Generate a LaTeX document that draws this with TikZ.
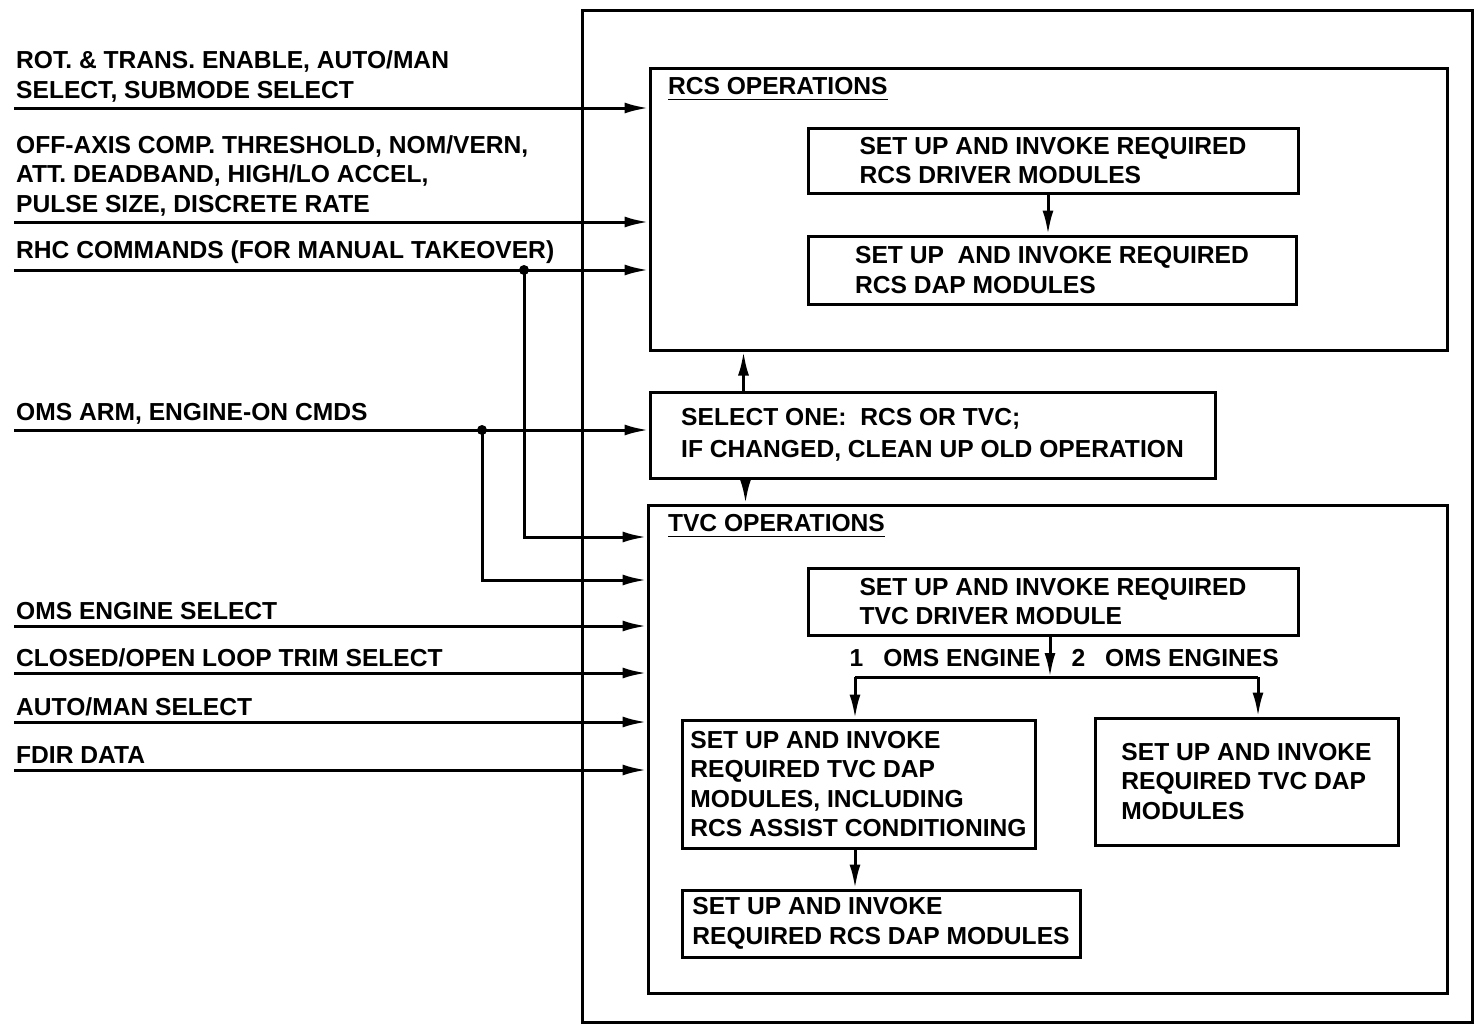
\documentclass[tikz,border=0pt]{standalone}
\usepackage{fontspec}
\setmainfont{Liberation Sans}
\usetikzlibrary{arrows.meta}

\begin{document}
\begin{tikzpicture}[line width=0.85pt, font=\bfseries\fontsize{7}{8.4}\selectfont]
\tikzset{module/.style = {draw, align=left, inner sep=0pt}}
\tikzset{heading/.style = {anchor=north west, inner sep=0pt}}
\tikzset{signal/.style = {anchor=south west, align=left, inner xsep=0.2pt, inner ysep=1.3pt}}
\tikzset{tap/.style = {circle, fill, inner sep=0pt, minimum size=0.1cm}}
\tikzset{edge/.style = {-{Latex[length=2.4mm,width=1.1mm]}}}
\useasboundingbox (0,0) rectangle (14.78,-10.30);
% outer frame
\draw (5.82,-0.10) rectangle (14.72,-10.22);
% operation boxes
\node[module, minimum width=7.97cm, minimum height=2.82cm] (rcs) at (10.485,-2.09) {};
\node[module, minimum width=5.65cm, minimum height=0.86cm, font=\bfseries\fontsize{7}{9}\selectfont] (sel) at (9.325,-4.35)
  {SELECT ONE:\ \ RCS OR TVC;\\IF CHANGED, CLEAN UP OLD OPERATION};
\node[module, minimum width=7.99cm, minimum height=4.88cm] (tvc) at (10.475,-7.49) {};
\node[heading] (rcstitle) at ([shift={(0.18,-0.09)}]rcs.north west) {\underline{RCS OPERATIONS}};
\node[heading] (tvctitle) at ([shift={(0.20,-0.09)}]tvc.north west) {\underline{TVC OPERATIONS}};
% modules
\node[module, minimum width=4.90cm, minimum height=0.65cm] (rcsdrv) at (10.53,-1.605)
  {SET UP AND INVOKE REQUIRED\\RCS DRIVER MODULES};
\node[module, minimum width=4.88cm, minimum height=0.68cm] (rcsdap) at (10.52,-2.70)
  {SET UP\ \ AND INVOKE REQUIRED\\RCS DAP MODULES};
\node[module, minimum width=4.90cm, minimum height=0.67cm] (tvcdrv) at (10.53,-6.015)
  {SET UP AND INVOKE REQUIRED\\TVC DRIVER MODULE};
\node[module, minimum width=3.53cm, minimum height=1.28cm] (tvcdap1) at (8.585,-7.84)
  {SET UP AND INVOKE\\REQUIRED TVC DAP\\MODULES, INCLUDING\\RCS ASSIST CONDITIONING};
\node[module, minimum width=3.03cm, minimum height=1.27cm] (tvcdap2) at (12.465,-7.815)
  {SET UP AND INVOKE\\REQUIRED TVC DAP\\MODULES};
\node[module, minimum width=3.98cm, minimum height=0.67cm] (rcsdap2) at (8.81,-9.235)
  {SET UP AND INVOKE\\REQUIRED RCS DAP MODULES};
% inputs
\coordinate (s1) at (0.14,-1.08);
\coordinate (s2) at (0.14,-2.22);
\coordinate (s3) at (0.14,-2.70);
\coordinate (s4) at (0.14,-4.30);
\coordinate (s5) at (0.14,-6.26);
\coordinate (s6) at (0.14,-6.73);
\coordinate (s7) at (0.14,-7.22);
\coordinate (s8) at (0.14,-7.70);
\node[signal] (in1) at (s1) {ROT. \& TRANS. ENABLE, AUTO/MAN\\SELECT, SUBMODE SELECT};
\node[signal] (in2) at (s2) {OFF-AXIS COMP. THRESHOLD, NOM/VERN,\\ATT. DEADBAND, HIGH/LO ACCEL,\\PULSE SIZE, DISCRETE RATE};
\node[signal] (in3) at (s3) {RHC COMMANDS (FOR MANUAL TAKEOVER)};
\node[signal] (in4) at (s4) {OMS ARM, ENGINE-ON CMDS};
\node[signal] (in5) at (s5) {OMS ENGINE SELECT};
\node[signal] (in6) at (s6) {CLOSED/OPEN LOOP TRIM SELECT};
\node[signal] (in7) at (s7) {AUTO/MAN SELECT};
\node[signal] (in8) at (s8) {FDIR DATA};
\node[tap] (t1) at (5.24,-2.70) {};
\node[tap] (t2) at (4.82,-4.30) {};
%edges
\draw[edge] (s1) -- (s1 -| rcs.west);
\draw[edge] (s2) -- (s2 -| rcs.west);
\draw[edge] (s3) -- (s3 -| rcs.west);
\draw[edge] (s4) -- (s4 -| sel.west);
\draw[edge] (s5) -- (s5 -| tvc.west);
\draw[edge] (s6) -- (s6 -| tvc.west);
\draw[edge] (s7) -- (s7 -| tvc.west);
\draw[edge] (s8) -- (s8 -| tvc.west);
\draw[edge] (t1.center) -- (5.24,-5.37) -- (tvc.west |- 0,-5.37);
\draw[edge] (t2.center) -- (4.82,-5.80) -- (tvc.west |- 0,-5.80);
\draw[edge] ([xshift=0.95cm]sel.north west) -- ([xshift=0.95cm]sel.north west |- rcs.south);
\draw[edge] ([xshift=0.97cm]sel.south west) -- ([xshift=0.97cm]sel.south west |- tvc.north);
\draw[edge] (rcsdrv.south -| 10.48,0) -- (rcsdap.north -| 10.48,0);
% engine branch
\coordinate (br) at (10.50,-6.77);
\coordinate (bl) at (8.55,-6.77);
\coordinate (bR) at (12.58,-6.77);
\draw[edge] (tvcdrv.south -| br) -- (br);
\draw (bl) -- (bR);
\draw[edge] (bl) -- (bl |- tvcdap1.north);
\draw[edge] (bR) -- (bR |- tvcdap2.north);
\draw[edge] (tvcdap1.south -| bl) -- (bl |- rcsdap2.north);
\node[anchor=east, inner sep=0pt] (one) at (10.42,-6.58) {1\hspace{0.2cm}OMS ENGINE};
\node[anchor=west, inner sep=0pt] (two) at (10.70,-6.58) {2\hspace{0.2cm}OMS ENGINES};
\end{tikzpicture}
\end{document}
